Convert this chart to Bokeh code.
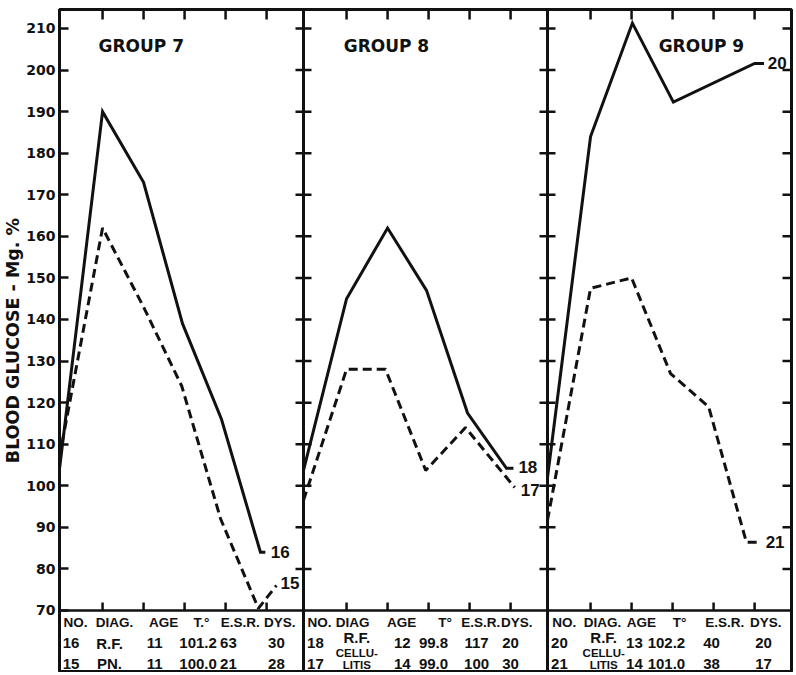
import numpy as np
from bokeh.plotting import figure
from bokeh.models import FixedTicker, Span, ColumnDataSource
from bokeh.core.properties import value
from bokeh.embed import file_html
from bokeh.resources import INLINE

# ---------------- data ----------------
GROUP_TITLES = ["GROUP 7", "GROUP 8", "GROUP 9"]
Y_TICKS = [70, 80, 90, 100, 110, 120, 130, 140, 150, 160, 170, 180, 190, 200, 210]
Y_LABEL = "BLOOD GLUCOSE - Mg. %"

# readings: x in column units from each panel's left edge, y in mg %
G7_SOLID_X = [0, 1.05, 2.05, 3.0, 3.95, 4.9, 5.02]
G7_SOLID_Y = [104, 190, 173, 139, 116, 84, 84]
G7_DASH_X = [0, 1.05, 2.05, 2.98, 3.93, 4.85, 5.29]
G7_DASH_Y = [107, 162, 143, 124, 92, 70.5, 76]

G8_SOLID_X = [0, 1.05, 2.05, 3.0, 4.0, 4.95, 5.12]
G8_SOLID_Y = [103.7, 145, 162, 147, 117.5, 104.2, 104.2]
G8_DASH_X = [0, 1.05, 2.0, 2.98, 3.95, 5.15]
G8_DASH_Y = [96.5, 128, 128, 103.7, 114, 99.6]

G9_SOLID_X = [0, 1.05, 2.07, 3.07, 5.05, 5.28]
G9_SOLID_Y = [102, 184, 211.3, 192.3, 201.6, 201.6]
G9_DASH_X = [0, 1.05, 2.05, 3.0, 3.93, 4.85, 5.15]
G9_DASH_Y = [91.7, 147.5, 150, 127, 119, 86.4, 86.4]

# patient numbers written at the line ends
END_LABELS = [["16", "15"], ["18", "17"], ["20", "21"]]

# table under the chart
HEAD_7 = ["NO.", "DIAG.", "AGE", "T.°", "E.S.R.", "DYS."]
ROW_A_7 = ["16", "R.F.", "11", "101.2", "63", "30"]
ROW_B_7 = ["15", "PN.", "11", "100.0", "21", "28"]
HEAD_8 = ["NO.", "DIAG", "AGE", "T°", "E.S.R.", "DYS."]
ROW_A_8 = ["18", "R.F.", "12", "99.8", "117", "20"]
ROW_B_8 = ["17", "CELLU-\nLITIS", "14", "99.0", "100", "30"]
HEAD_9 = ["NO.", "DIAG.", "AGE", "T°", "E.S.R.", "DYS."]
ROW_A_9 = ["20", "R.F.", "13", "102.2", "40", "20"]
ROW_B_9 = ["21", "CELLU-\nLITIS", "14", "101.0", "38", "17"]

# ---------------- layout constants ----------------
XS, XE = 0.0, 17.85
YS, YE = 55.32, 214.57
FRAME_W, FRAME_H = 732, 662
PANEL_W = 5.95
TICK_COLS = [1.05, 2.05, 3.05, 4.05, 5.05]
TITLE_POS = [(0.95, 205.8), (0.98, 205.8), (2.71, 205.8)]
END_LABEL_POS = [[(5.15, 84.0), (5.39, 76.6)],
                 [(5.24, 104.4), (5.3, 98.9)],
                 [(5.37, 201.8), (5.32, 86.4)]]
HEAD_X = [[0.39, 1.34, 2.54, 3.46, 4.41, 5.37],
          [0.39, 1.2, 2.39, 3.45, 4.32, 5.2],
          [0.41, 1.34, 2.29, 3.22, 4.32, 5.32]]
VAL_X = [[0.28, 1.22, 2.32, 3.38, 4.12, 5.29],
         [0.29, 1.3, 2.41, 3.17, 4.22, 5.05],
         [0.29, 1.37, 2.12, 2.9, 4.0, 5.27]]
ROW_Y = {"head": 67.1, "a": 62.06, "b": 57.24, "a_raised": 63.5, "b_top": 59.8, "b_bot": 57.0}

INK = "#111111"

p = figure(frame_width=FRAME_W, frame_height=FRAME_H,
           x_range=(XS, XE), y_range=(YS, YE),
           x_axis_location=None, y_axis_location="left",
           output_backend="svg", toolbar_location=None,
           min_border_left=53, min_border_right=2, min_border_top=9, min_border_bottom=1,
           background_fill_color="white", border_fill_color="white")
p.grid.visible = False
p.outline_line_color = INK
p.outline_line_width = 3

ax = p.yaxis[0]
ax.ticker = FixedTicker(ticks=Y_TICKS)
ax.major_tick_in = 9
ax.major_tick_out = 0
ax.major_tick_line_width = 2.5
ax.major_tick_line_color = INK
ax.minor_tick_in = 0
ax.minor_tick_out = 0
ax.axis_line_width = 3
ax.axis_line_color = INK
ax.major_label_text_font = "DejaVu Sans"
ax.major_label_text_font_style = "bold"
ax.major_label_text_font_size = "14px"
ax.major_label_text_color = INK
ax.major_label_standoff = 4
ax.axis_label = Y_LABEL
ax.axis_label_text_font = "DejaVu Sans"
ax.axis_label_text_font_style = "bold"
ax.axis_label_text_font_size = "17.5px"
ax.axis_label_text_color = INK
ax.axis_label_standoff = 0

xpx = FRAME_W / (XE - XS)
ypx = FRAME_H / (YE - YS)

# dividers and table top line
for i in (1, 2):
    p.add_layout(Span(location=i * PANEL_W, dimension="height", line_color=INK, line_width=3))
p.add_layout(Span(location=Y_TICKS[0], dimension="width", line_color=INK, line_width=2.5))

# curves
series = [
    (G7_SOLID_X, G7_SOLID_Y, G7_DASH_X, G7_DASH_Y),
    (G8_SOLID_X, G8_SOLID_Y, G8_DASH_X, G8_DASH_Y),
    (G9_SOLID_X, G9_SOLID_Y, G9_DASH_X, G9_DASH_Y),
]
for i, (sx, sy, dx, dy) in enumerate(series):
    off = i * PANEL_W
    p.line([off + v for v in sx], sy, line_color=INK, line_width=3, line_join="miter")
    p.line([off + v for v in dx], dy, line_color=INK, line_width=3, line_dash="9 5")

# tick marks: one broken polyline (NaN separated)
kx, ky = [], []
def add_seg(xa, ya, xb, yb):
    kx.extend([xa, xb, np.nan]); ky.extend([ya, yb, np.nan])

for i in range(3):
    for t in TICK_COLS:
        x = i * PANEL_W + t
        add_seg(x, YE, x, YE - 10 / ypx)                          # top border, down
        add_seg(x, Y_TICKS[0], x, Y_TICKS[0] + 8 / ypx)           # table line, up
for yv in Y_TICKS[1:]:
    for i in (1, 2):
        add_seg(i * PANEL_W - 8 / xpx, yv, i * PANEL_W + 8 / xpx, yv)   # across dividers
    add_seg(XE, yv, XE - 9 / xpx, yv)                              # right border, in
p.line(np.array(kx), np.array(ky), line_color=INK, line_width=2.5)

# titles
p.text(x=[i * PANEL_W + TITLE_POS[i][0] for i in range(3)], y=[t[1] for t in TITLE_POS],
       text=GROUP_TITLES, text_font=value("DejaVu Sans"), text_font_style="bold",
       text_font_size="17px", text_baseline="middle", text_align="left", text_color=INK)

# end labels
lx, ly, lt = [], [], []
for i in range(3):
    for j in range(2):
        lx.append(i * PANEL_W + END_LABEL_POS[i][j][0])
        ly.append(END_LABEL_POS[i][j][1])
        lt.append(END_LABELS[i][j])
p.text(x=lx, y=ly, text=lt, text_font=value("Liberation Sans"), text_font_style="bold",
       text_font_size="17px", text_baseline="middle", text_align="left", text_color=INK)

# table
tables = [(HEAD_7, ROW_A_7, ROW_B_7), (HEAD_8, ROW_A_8, ROW_B_8), (HEAD_9, ROW_A_9, ROW_B_9)]
head = dict(x=[], y=[], t=[])
big = dict(x=[], y=[], t=[])
small = dict(x=[], y=[], t=[])
for i, (hd, ra, rb) in enumerate(tables):
    off = i * PANEL_W
    for j in range(6):
        head["x"].append(off + HEAD_X[i][j]); head["y"].append(ROW_Y["head"]); head["t"].append(hd[j])
        two_line = "\n" in rb[j]
        big["x"].append(off + VAL_X[i][j])
        big["y"].append(ROW_Y["a_raised"] if two_line else ROW_Y["a"])
        big["t"].append(ra[j])
        if two_line:
            top, bot = rb[j].split("\n")
            small["x"] += [off + VAL_X[i][j], off + VAL_X[i][j]]
            small["y"] += [ROW_Y["b_top"], ROW_Y["b_bot"]]
            small["t"] += [top, bot]
        else:
            big["x"].append(off + VAL_X[i][j]); big["y"].append(ROW_Y["b"]); big["t"].append(rb[j])

p.text(x="x", y="y", text="t", source=ColumnDataSource(head),
       text_font=value("Liberation Sans"), text_font_style="bold", text_font_size="13.5px",
       text_baseline="middle", text_align="center", text_color=INK)
p.text(x="x", y="y", text="t", source=ColumnDataSource(big),
       text_font=value("Liberation Sans"), text_font_style="bold", text_font_size="15px",
       text_baseline="middle", text_align="center", text_color=INK)
p.text(x="x", y="y", text="t", source=ColumnDataSource(small),
       text_font=value("Liberation Sans"), text_font_style="bold", text_font_size="11.5px",
       text_baseline="middle", text_align="center", text_color=INK)

open("out.html", "w").write(file_html(p, INLINE))
